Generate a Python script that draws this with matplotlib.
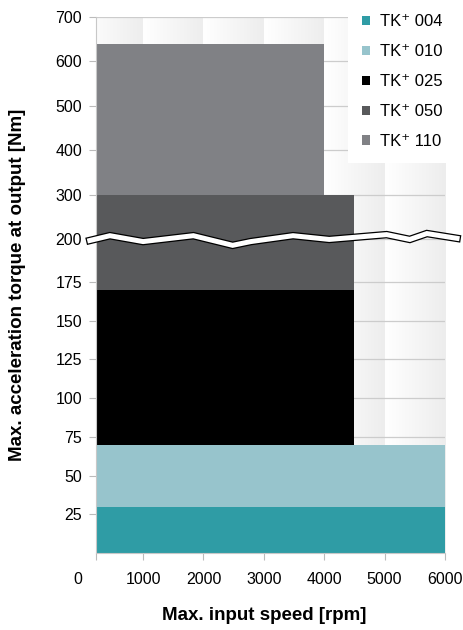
import numpy as np
import matplotlib.pyplot as plt
import matplotlib.transforms as mtransforms
import matplotlib.patheffects as pe
from matplotlib.colors import LinearSegmentedColormap

plt.rcParams['font.family'] = ['Liberation Sans', 'DejaVu Sans']

# data
series = ['TK\u207a 004', 'TK\u207a 010', 'TK\u207a 025', 'TK\u207a 050', 'TK\u207a 110']
torque_low = [0, 30, 70, 170, 300]
torque_high = [30, 70, 170, 300, 640]
max_speed = [6000, 6000, 4500, 4500, 4000]
colors = ['#2f9ca5', '#97c4cc', '#000000', '#58595b', '#808185']

x_ticks = [1000, 2000, 3000, 4000, 5000, 6000]
y_ticks = [25, 50, 75, 100, 125, 150, 175, 200, 300, 400, 500, 600, 700]

# break symbol outline (x in rpm, y in axes fraction)
brk_x = [117, 450, 1000, 1833, 2483, 2783, 3483, 4083, 5033, 5417, 5700, 6200]
brk_y = [0.583, 0.592, 0.581, 0.592, 0.574, 0.581, 0.592, 0.585, 0.594, 0.585, 0.596, 0.587]

X_LEFT = 220


# broken y axis: 0-200 stretched, 200-700 compressed
def fwd(v):
    v = np.asarray(v, dtype=float)
    return np.where(v <= 175, v * 1.544,
                    np.where(v <= 200, 270.2 + (v - 175) * 1.712,
                             313.0 + (v - 200) * 0.443))


def inv(g):
    g = np.asarray(g, dtype=float)
    return np.where(g <= 270.2, g / 1.544,
                    np.where(g <= 313.0, 175 + (g - 270.2) / 1.712,
                             200 + (g - 313.0) / 0.443))


fig = plt.figure(figsize=(4.64, 6.30), dpi=100)
rect = [96 / 464, 1 - 553 / 630, 349 / 464, 536 / 630]

# background with gradient columns
bg = fig.add_axes(rect, zorder=0)
grad = np.linspace(0, 1, 64).reshape(1, -1)
cmap = LinearSegmentedColormap.from_list('bg', ['#ffffff', '#ededed'])
edges = [0] + x_ticks
for a, b in zip(edges[:-1], edges[1:]):
    bg.imshow(grad, cmap=cmap, extent=(a, b, 0, 1), aspect='auto',
              interpolation='bilinear')
bg.set_xlim(X_LEFT, 6000)
bg.set_ylim(0, 1)
bg.axis('off')

ax = fig.add_axes(rect, zorder=1)
ax.patch.set_alpha(0)
ax.set_yscale('function', functions=(fwd, inv))

for name, lo, hi, sp, c in zip(series, torque_low, torque_high, max_speed, colors):
    ax.bar(0, hi - lo, width=sp, bottom=lo, align='edge', color=c,
           label=name, zorder=2)

ax.plot(brk_x, brk_y, transform=ax.get_xaxis_transform(), color='white',
        lw=3.6, clip_on=False, zorder=4, solid_joinstyle='miter',
        path_effects=[pe.Stroke(linewidth=5.4, foreground='black'), pe.Normal()])

ax.set_xlim(X_LEFT, 6000)
ax.set_ylim(0, 700)
ax.set_xticks([X_LEFT] + x_ticks)
ax.set_xticklabels([''] + [str(t) for t in x_ticks])
ax.set_yticks(y_ticks)
ax.set_yticklabels([str(t) for t in y_ticks])
ax.yaxis.grid(True, color='#cccccc', lw=0.9)
ax.set_axisbelow(True)

for s in ['top', 'right']:
    ax.spines[s].set_visible(False)
ax.spines['left'].set_color('#c8c8c8')
ax.spines['bottom'].set_color('#c8c8c8')
ax.tick_params(axis='y', length=5, color='#bbbbbb', labelsize=11.5, pad=5)
ax.tick_params(axis='x', length=5, color='#bbbbbb', labelsize=11.5, pad=9)

# the "0" speed label sits left of the axis start
off = mtransforms.ScaledTranslation(0, -14 / 72, fig.dpi_scale_trans)
ax.text(-80, 0, '0', transform=ax.get_xaxis_transform() + off,
        ha='center', va='top', fontsize=11.5, clip_on=False)

fig.text(264 / 464, 1 - 616 / 630, 'Max. input speed [rpm]',
         ha='center', va='center', fontsize=13.5, fontweight='bold')
fig.text(18 / 464, 1 - 285 / 630, 'Max. acceleration torque at output [Nm]',
         ha='center', va='center', rotation=90, fontsize=13.5, fontweight='bold')

ax.legend(loc='upper right', bbox_to_anchor=(457 / 464, 1.0),
          bbox_transform=fig.transFigure, frameon=True, facecolor='white',
          edgecolor='none', framealpha=1, fancybox=False, fontsize=12,
          handlelength=0.5, handleheight=0.5, handletextpad=0.6,
          labelspacing=0.9, borderpad=0.85, borderaxespad=0)

fig.savefig('out.png', dpi=100)
